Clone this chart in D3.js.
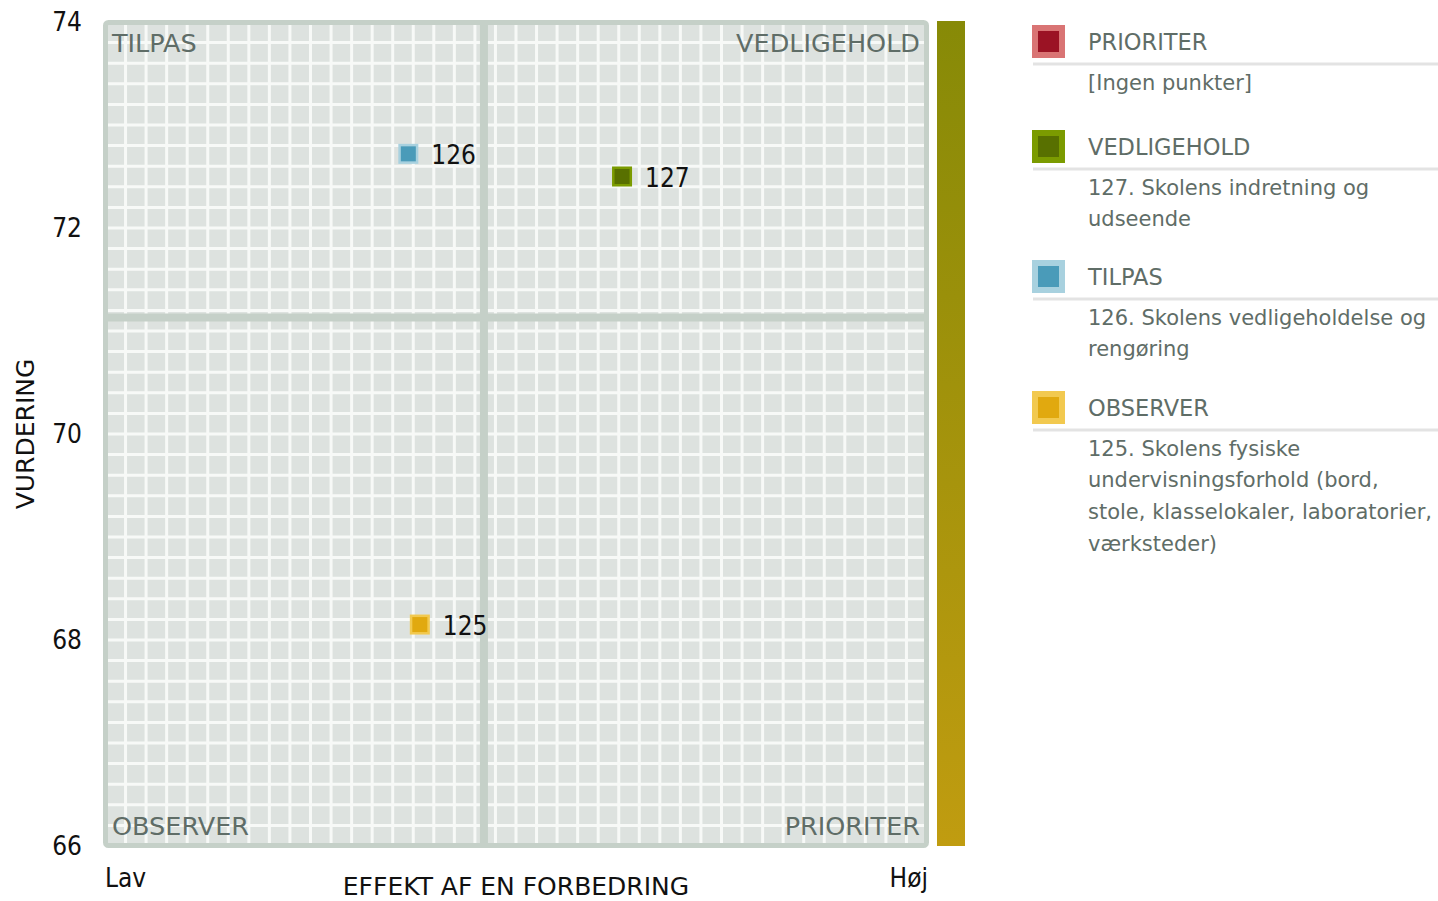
<!DOCTYPE html>
<html><head><meta charset="utf-8">
<script src="https://cdn.jsdelivr.net/npm/d3@7"></script>
<style>
html,body{margin:0;padding:0;background:#fff;}
svg{display:block;font-family:"DejaVu Sans",sans-serif;}
.cond{font-family:"DejaVu Sans Condensed","DejaVu Sans",sans-serif;font-stretch:condensed;}
</style></head><body>
<svg id="chart" width="1438" height="901"></svg>
<script>
// ---- data ----
const pointIds = [125, 126, 127];
const pointEffect = [0.383, 0.369, 0.629];      // x (Lav -> Høj)
const pointRating = [68.15, 72.72, 72.50];      // VURDERING
const pointQuadrant = ["OBSERVER", "TILPAS", "VEDLIGEHOLD"];
const splitEffect = 0.461;
const splitRating = 71.13;
const yTicks = [66, 68, 70, 72, 74];
const xEnds = ["Lav", "Høj"];
const quadrantNames = ["PRIORITER", "VEDLIGEHOLD", "TILPAS", "OBSERVER"];
const quadrantOuter = ["#d97474", "#7b9b00", "#a8d1df", "#f2c94f"];
const quadrantInner = ["#9b1324", "#587000", "#4a9bb9", "#e1a90f"];
const legendLines = [
  ["[Ingen punkter]"],
  ["127. Skolens indretning og", "udseende"],
  ["126. Skolens vedligeholdelse og", "rengøring"],
  ["125. Skolens fysiske", "undervisningsforhold (bord,", "stole, klasselokaler, laboratorier,", "værksteder)"]
];

// ---- chart ----
const svg = d3.select("#chart");
const x = d3.scaleLinear().domain([0, 1]).range([105, 927]);
const y = d3.scaleLinear().domain([66, 74]).range([846, 22]);

const defs = svg.append("defs");
const grad = defs.append("linearGradient").attr("id", "bar").attr("x1", 0).attr("y1", 0).attr("x2", 0).attr("y2", 1);
grad.append("stop").attr("offset", "0%").attr("stop-color", "#878a07");
grad.append("stop").attr("offset", "100%").attr("stop-color", "#c09c10");

// plot background
svg.append("rect").attr("x", 105.5).attr("y", 22.5).attr("width", 821).attr("height", 823)
  .attr("fill", "#dde2df");

// grid
const gx = d3.range(41).map(i => i / 40);
const gy = d3.range(41).map(i => 66 + i * 0.2);
svg.append("g").selectAll("line").data(gx).join("line")
  .attr("x1", d => x(d)).attr("x2", d => x(d)).attr("y1", y(74)).attr("y2", y(66))
  .attr("stroke", "#f7f9f7").attr("stroke-width", 3);
svg.append("g").selectAll("line").data(gy).join("line")
  .attr("y1", d => y(d)).attr("y2", d => y(d)).attr("x1", x(0)).attr("x2", x(1))
  .attr("stroke", "#f7f9f7").attr("stroke-width", 3);

// split lines
svg.append("line").attr("x1", x(splitEffect)).attr("x2", x(splitEffect)).attr("y1", y(74)).attr("y2", y(66))
  .attr("stroke", "#c5d0c8").attr("stroke-width", 8);
svg.append("line").attr("y1", y(splitRating)).attr("y2", y(splitRating)).attr("x1", x(0)).attr("x2", x(1))
  .attr("stroke", "#c5d0c8").attr("stroke-width", 8);

// frame
svg.append("rect").attr("x", 105.5).attr("y", 22.5).attr("width", 821).attr("height", 823)
  .attr("rx", 3).attr("fill", "none").attr("stroke", "#c5d0c8").attr("stroke-width", 5);

// quadrant labels
const qc = "#5f6d67";
const ql = svg.append("g").attr("font-size", 25.5).attr("fill", qc);
ql.append("text").attr("x", 112).attr("y", 52).text("TILPAS");
ql.append("text").attr("x", 920).attr("y", 52).attr("text-anchor", "end").text("VEDLIGEHOLD");
ql.append("text").attr("x", 112).attr("y", 835).text("OBSERVER");
ql.append("text").attr("x", 920).attr("y", 835).attr("text-anchor", "end").text("PRIORITER");

// color bar
svg.append("rect").attr("x", 937).attr("y", y(74) - 1).attr("width", 28).attr("height", y(66) - y(74) + 1)
  .attr("fill", "url(#bar)");

// y axis ticks
svg.append("g").attr("class", "cond").selectAll("text").data(yTicks).join("text")
  .attr("x", 82).attr("y", d => y(d)).attr("dy", "0.35em").attr("text-anchor", "end")
  .attr("font-size", 26).attr("fill", "#111").text(d => d);

// x ends
svg.append("text").attr("class", "cond").attr("x", 105).attr("y", 887).attr("font-size", 26).attr("fill", "#111").text(xEnds[0]);
svg.append("text").attr("class", "cond").attr("x", 928).attr("y", 887).attr("text-anchor", "end").attr("font-size", 26).attr("fill", "#111").text(xEnds[1]);

// axis titles
svg.append("text").attr("x", x(0.5)).attr("y", 895).attr("text-anchor", "middle")
  .attr("font-size", 25).attr("fill", "#111").text("EFFEKT AF EN FORBEDRING");
svg.append("text").attr("transform", `translate(34,${y(70)}) rotate(-90)`).attr("text-anchor", "middle")
  .attr("font-size", 25).attr("fill", "#111").text("VURDERING");

// points
const pts = pointIds.map((id, i) => ({id, x: pointEffect[i], y: pointRating[i], q: quadrantNames.indexOf(pointQuadrant[i])}));
const pg = svg.append("g").selectAll("g").data(pts).join("g")
  .attr("transform", d => `translate(${x(d.x)},${y(d.y)})`);
pg.append("rect").attr("x", -10).attr("y", -10).attr("width", 20).attr("height", 20)
  .attr("fill", d => quadrantOuter[d.q]);
pg.append("rect").attr("x", -7.5).attr("y", -7.5).attr("width", 15).attr("height", 15)
  .attr("fill", d => quadrantInner[d.q]);
pg.append("text").attr("class", "cond").attr("x", 23).attr("y", 1).attr("dy", "0.36em").attr("font-size", 26).attr("fill", "#111")
  .text(d => d.id);

// legend
const legendY = [42, 147, 277, 408];
const lg = svg.append("g").selectAll("g").data(quadrantNames).join("g")
  .attr("transform", (d, i) => `translate(0,${legendY[i]})`);
lg.append("rect").attr("x", 1032).attr("y", -17).attr("width", 33).attr("height", 33)
  .attr("fill", (d, i) => quadrantOuter[i]);
lg.append("rect").attr("x", 1038).attr("y", -11).attr("width", 21).attr("height", 21)
  .attr("fill", (d, i) => quadrantInner[i]);
lg.append("text").attr("x", 1088).attr("y", 0).attr("dy", "0.36em").attr("font-size", 22.5).attr("fill", qc)
  .text(d => d);
lg.append("line").attr("x1", 1033).attr("x2", 1438).attr("y1", 22).attr("y2", 22)
  .attr("stroke", "#e3e3e3").attr("stroke-width", 3);
lg.each(function(d, i) {
  d3.select(this).selectAll("text.desc").data(legendLines[i]).join("text").attr("class", "desc")
    .attr("x", 1088).attr("y", (t, j) => 40 + j * 31.7).attr("dy", "0.36em")
    .attr("font-size", 21).attr("fill", qc).text(t => t);
});
</script>
</body></html>
